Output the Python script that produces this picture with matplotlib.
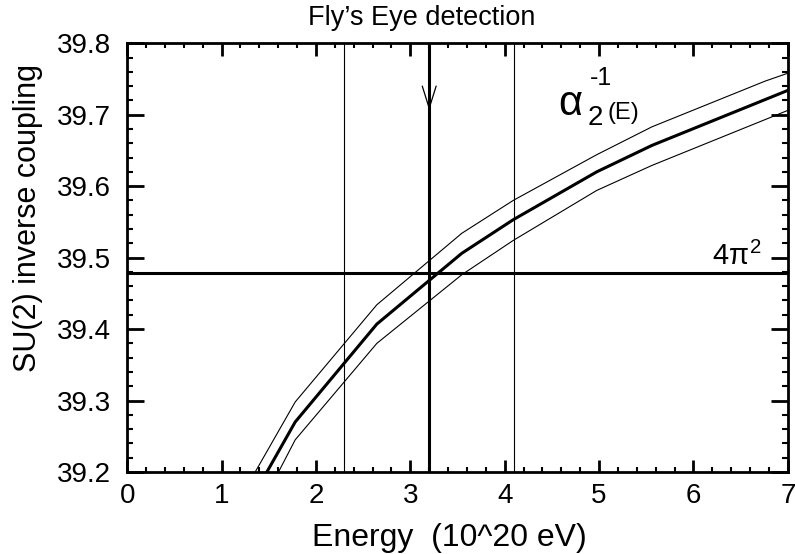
import matplotlib
matplotlib.use("Agg")
import matplotlib.pyplot as plt

plt.rcParams['font.family'] = ['Liberation Sans', 'DejaVu Sans']
plt.rcParams['mathtext.fontset'] = 'custom'
plt.rcParams['mathtext.rm'] = 'Liberation Sans'
plt.rcParams['mathtext.it'] = 'Liberation Sans'

# central value of alpha_2^-1(E) and its band
e_mid = [1.48, 1.78, 2.645, 3.545, 4.09, 4.975, 5.56, 7.0]
a_mid = [39.200, 39.270, 39.407, 39.506, 39.553, 39.620, 39.657, 39.734]
e_up = [1.356, 1.78, 2.645, 3.545, 4.09, 4.975, 5.56, 6.76, 7.0]
a_up = [39.200, 39.298, 39.434, 39.534, 39.580, 39.644, 39.683, 39.747, 39.758]
e_lo = [1.603, 1.78, 2.645, 3.545, 4.09, 4.975, 5.56, 7.0]
a_lo = [39.200, 39.245, 39.380, 39.476, 39.524, 39.594, 39.629, 39.706]

e_cut = 3.2          # detection energy
e_band = [2.3, 4.1]  # error on energy
four_pi2 = 39.478
arrow_tip = 39.706

fig = plt.figure(figsize=(7.95, 5.54), dpi=100)
ax = fig.add_axes([0.160, 0.148, 0.831, 0.774])

ax.plot(e_up, a_up, color='black', lw=0.8)
ax.plot(e_lo, a_lo, color='black', lw=0.8)
ax.plot(e_mid, a_mid, color='black', lw=2.2)

ax.axhline(four_pi2, color='black', lw=2.2)
ax.axvline(e_cut, color='black', lw=2.2)
for e in e_band:
    ax.axvline(e, color='black', lw=0.8)

ax.annotate('', xy=(e_cut, arrow_tip), xytext=(e_cut, 39.8),
            arrowprops=dict(arrowstyle='->,head_length=1.6,head_width=0.5',
                            lw=0.9, color='black', shrinkA=0, shrinkB=0))

ax.text(4.56, 39.699, r'$\alpha$', fontsize=30, ha='left', va='baseline')
ax.text(4.9, 39.741, '-1', fontsize=18, ha='left', va='baseline')
ax.text(4.88, 39.685, '2', fontsize=20, ha='left', va='baseline')
ax.text(5.09, 39.694, '(E)', fontsize=17, ha='left', va='baseline')
ax.text(6.2, 39.489, r'$4\pi^2$', fontsize=21, ha='left', va='baseline')

ax.set_xlim(0, 7)
ax.set_ylim(39.2, 39.8)
ax.set_xticks(range(0, 8))
ax.set_xticks([i * 0.2 for i in range(36)], minor=True)
ax.set_yticks([39.2, 39.3, 39.4, 39.5, 39.6, 39.7, 39.8])
ax.set_yticks([39.2 + i * 0.02 for i in range(31)], minor=True)
ax.tick_params(which='both', direction='in', top=True, right=True, labelsize=20)
ax.tick_params(axis='x', which='major', length=9, width=2, pad=8)
ax.tick_params(axis='x', which='minor', length=3.5, width=1.5)
ax.tick_params(axis='y', which='major', length=12, width=2, pad=12)
ax.tick_params(axis='y', which='minor', length=4, width=1.5)
for s in ax.spines.values():
    s.set_linewidth(2)

ax.set_xlabel('Energy  (10^20 eV)', fontsize=23, labelpad=10)
ax.xaxis.label.set_x(0.487)
ax.set_ylabel('SU(2) inverse coupling', fontsize=22, labelpad=10)
ax.yaxis.label.set_y(0.592)
ax.set_title("Fly\u2019s Eye detection", fontsize=19.5, pad=13)
ax.title.set_x(0.446)

fig.savefig('out.png', dpi=100)
